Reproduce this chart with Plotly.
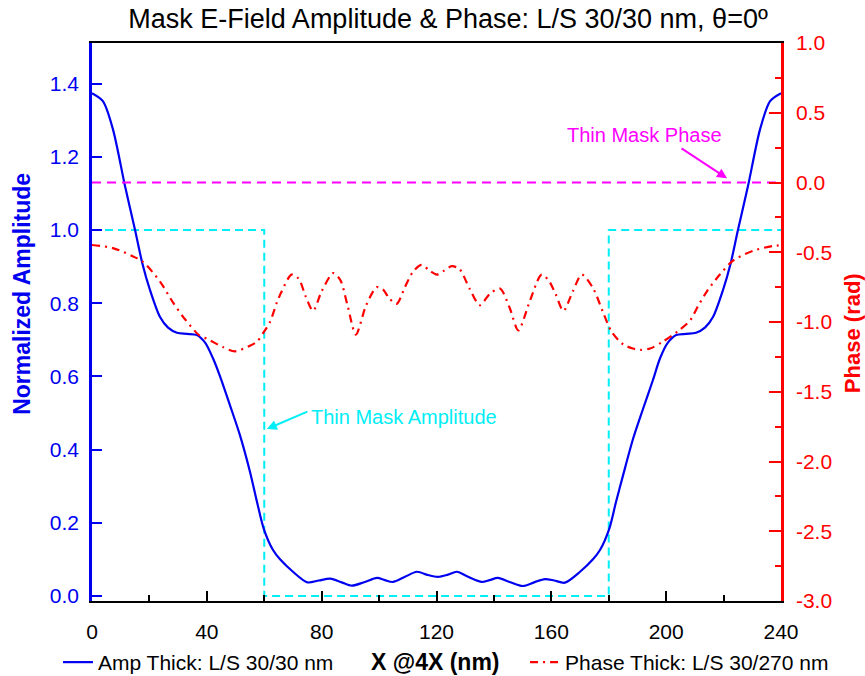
import plotly.graph_objects as go

# ---------------- data ----------------
amp_x = [0, 3.8, 7.3, 11.5, 15, 17.5, 20.2, 23.7, 26.5, 29.6, 33, 36.5, 39.4, 42.1, 44.6,
         48.1, 51.5, 55, 57.5, 59.8, 63, 65.5, 70, 75, 79, 83, 87, 90.5, 95, 99.3, 102,
         104.8, 109, 113.2, 117, 120.5, 124, 127.1, 131, 135.8, 138.5, 141.4, 145.5, 150.1,
         154, 157.8, 161, 164.7, 170, 174.5, 177, 180.2, 182.5, 185, 188.5, 191.9, 195.4,
         197.9, 200.6, 203.5, 207, 210.4, 213.5, 216.3, 219.8, 222.5, 225, 228.5, 232.7,
         236.2, 240]
amp_y = [1.374, 1.352, 1.275, 1.12, 1.0, 0.91, 0.836, 0.762, 0.733, 0.719, 0.716, 0.713,
         0.692, 0.65, 0.6, 0.52, 0.44, 0.34, 0.256, 0.184, 0.126, 0.1, 0.066, 0.037, 0.042,
         0.047, 0.037, 0.028, 0.038, 0.049, 0.043, 0.038, 0.052, 0.066, 0.057, 0.052, 0.058,
         0.066, 0.052, 0.038, 0.043, 0.049, 0.038, 0.027, 0.037, 0.046, 0.042, 0.036, 0.066,
         0.1, 0.126, 0.184, 0.256, 0.33, 0.43, 0.51, 0.59, 0.65, 0.692, 0.713, 0.716, 0.719,
         0.733, 0.762, 0.836, 0.91, 1.0, 1.12, 1.275, 1.352, 1.374]

ph_x = [0, 7.3, 14.3, 17.8, 23.7, 28.2, 32.4, 37.6, 40, 45.6, 49.8, 55, 57.5, 59.6, 62,
        64.4, 66.1, 69.5, 72, 74.5, 77, 80, 84, 86.5, 89, 91.9, 95.5, 99.2, 101.5, 103.5,
        106.1, 109, 111.8, 114.8, 117.5, 120.1, 122.8, 125.3, 128, 131.5, 135.1, 138.5,
        142.1, 145.5, 148.5, 152.5, 156.6, 159, 161.5, 164.2, 167.5, 170.6, 174.6, 178, 181,
        185, 188.4, 191, 194.4, 198.9, 203.8, 208.3, 211, 214.2, 218.7, 223.3, 230.2, 237.2,
        240]
ph_y = [-0.448, -0.47, -0.53, -0.57, -0.71, -0.86, -0.98, -1.10, -1.12, -1.18, -1.21, -1.17,
        -1.14, -1.08, -1.0, -0.86, -0.78, -0.66, -0.69, -0.82, -0.92, -0.78, -0.65, -0.70,
        -0.88, -1.09, -0.88, -0.75, -0.77, -0.83, -0.87, -0.75, -0.64, -0.59, -0.63, -0.66,
        -0.63, -0.60, -0.62, -0.76, -0.88, -0.80, -0.76, -0.90, -1.06, -0.85, -0.66, -0.70,
        -0.80, -0.92, -0.78, -0.66, -0.76, -0.93, -1.07, -1.16, -1.19, -1.20, -1.19, -1.14,
        -1.07, -0.99, -0.89, -0.78, -0.66, -0.56, -0.49, -0.455, -0.45]

thin_amp_x = [0, 60, 60, 180, 180, 240]
thin_amp_y = [1, 1, 0, 0, 1, 1]
thin_ph_x = [0, 240]
thin_ph_y = [0, 0]

x_ticks = [0, 40, 80, 120, 160, 200, 240]
x_minor = [20, 60, 100, 140, 180, 220]
y_ticks = [0, 0.2, 0.4, 0.6, 0.8, 1.0, 1.2, 1.4]
y_labels = ["0.0", "0.2", "0.4", "0.6", "0.8", "1.0", "1.2", "1.4"]
y2_ticks = [-3, -2.5, -2, -1.5, -1, -0.5, 0, 0.5, 1]
y2_labels = ["-3.0", "-2.5", "-2.0", "-1.5", "-1.0", "-0.5", "0.0", "0.5", "1.0"]
y2_minor = [-2.75, -2.25, -1.75, -1.25, -0.75, -0.25, 0.25, 0.75]

title_text = "Mask E-Field Amplitude &amp; Phase: L/S 30/30 nm, θ=0º"
amp_name = "Amp Thick: L/S 30/30 nm"
ph_name = "Phase Thick: L/S 30/270 nm"

FONT = "Liberation Sans, Arial"
BLUE = "#0000F0"
RED = "#FF0000"
CYAN = "#00EEF5"
MAG = "#FF00FF"

fig = go.Figure()
fig.add_trace(go.Scatter(x=thin_amp_x, y=thin_amp_y, mode="lines", showlegend=False,
                         line=dict(color=CYAN, width=2, dash="8px,5px")))
fig.add_trace(go.Scatter(x=thin_ph_x, y=thin_ph_y, mode="lines", yaxis="y2", showlegend=False,
                         line=dict(color=MAG, width=2, dash="9px,6px")))
fig.add_trace(go.Scatter(x=amp_x, y=amp_y, mode="lines", name=amp_name,
                         line=dict(color=BLUE, width=2.2, shape="spline", smoothing=0.8),
                         legend="legend"))
fig.add_trace(go.Scatter(x=ph_x, y=ph_y, mode="lines", name=ph_name, yaxis="y2",
                         line=dict(color=RED, width=2.2, shape="spline", smoothing=0.8,
                                   dash="8px,5px,2px,5px"),
                         legend="legend2"))

fig.update_layout(
    width=865, height=676,
    margin=dict(l=92, r=84, t=43, b=75, autoexpand=False),
    paper_bgcolor="white", plot_bgcolor="white",
    title=dict(text=title_text, x=0.518, xanchor="center", y=0.973, yanchor="middle",
               font=dict(family=FONT, size=27, color="black")),
    xaxis=dict(range=[0, 240], tickvals=x_ticks, automargin=False,
               ticks="inside", ticklen=10, tickwidth=1.5, tickcolor="black",
               minor=dict(tickvals=x_minor, ticks="inside", ticklen=6,
                          tickwidth=1.5, tickcolor="black"),
               showline=True, linecolor="black", linewidth=2, mirror=True,
               showgrid=False, zeroline=False, ticklabelstandoff=11,
               tickfont=dict(family=FONT, size=21, color="black")),
    yaxis=dict(range=[-0.014, 1.511], tickvals=y_ticks, ticktext=y_labels, automargin=False,
               ticks="inside", ticklen=10, tickwidth=2, tickcolor=BLUE,
               showline=True, linecolor=BLUE, linewidth=2.5,
               showgrid=False, zeroline=False, ticklabelstandoff=6,
               tickfont=dict(family=FONT, size=21, color=BLUE)),
    yaxis2=dict(range=[-3, 1], overlaying="y", side="right", automargin=False,
                tickvals=y2_ticks, ticktext=y2_labels,
                ticks="inside", ticklen=12, tickwidth=2, tickcolor=RED,
                minor=dict(tickvals=y2_minor, ticks="inside", ticklen=6, tickwidth=2,
                           tickcolor=RED),
                showline=True, linecolor=RED, linewidth=2.5,
                showgrid=False, zeroline=False, ticklabelstandoff=8,
                tickfont=dict(family=FONT, size=21, color=RED)),
    legend=dict(orientation="h", xref="container", yref="container", x=0.067, y=0.02,
                xanchor="left", yanchor="middle", bgcolor="rgba(0,0,0,0)",
                font=dict(family=FONT, size=21, color="black")),
    legend2=dict(orientation="h", xref="container", yref="container", x=0.607, y=0.02,
                 xanchor="left", yanchor="middle", bgcolor="rgba(0,0,0,0)",
                 font=dict(family=FONT, size=21, color="black")),
)

ann = [
    dict(text="<b>Normalized Amplitude</b>", xref="paper", yref="paper", x=-0.102, y=0.55,
         xanchor="center", yanchor="middle",
         textangle=-90, showarrow=False, font=dict(family=FONT, size=23, color=BLUE)),
    dict(text="<b>Phase (rad)</b>", xref="paper", yref="paper", x=1.103, y=0.48,
         xanchor="center", yanchor="middle",
         textangle=-90, showarrow=False, font=dict(family=FONT, size=22, color=RED)),
    dict(text="<b>X @4X (nm)</b>", xref="paper", yref="paper", x=0.498, y=-0.11,
         xanchor="center", yanchor="middle",
         showarrow=False, font=dict(family=FONT, size=23, color="black")),
    dict(text="Thin Mask Amplitude", xref="x", yref="y", x=75.5, y=0.49, xanchor="left",
         yanchor="middle", showarrow=False, font=dict(family=FONT, size=20, color=CYAN)),
    dict(text="", xref="x", yref="y", x=60.9, y=0.456, ax=42, ay=-18, showarrow=True,
         arrowhead=2, arrowsize=1, arrowwidth=2, arrowcolor=CYAN),
    dict(text="Thin Mask Phase", xref="x", yref="y2", x=220, y=0.34, xanchor="right",
         yanchor="middle", showarrow=False, font=dict(family=FONT, size=20, color=MAG)),
    dict(text="", xref="x", yref="y2", x=221.2, y=0.03, ax=-47, ay=-31, showarrow=True,
         arrowhead=2, arrowsize=1, arrowwidth=2, arrowcolor=MAG),
]
fig.update_layout(annotations=ann)

fig.write_html("out.html")
